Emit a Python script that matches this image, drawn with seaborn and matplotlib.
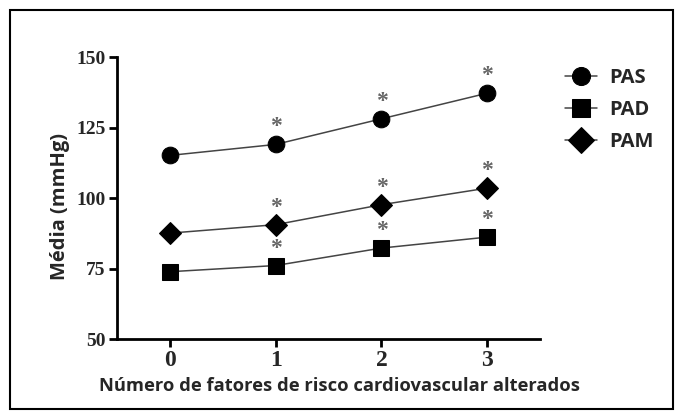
import matplotlib
matplotlib.use("Agg")
import matplotlib.pyplot as plt
import seaborn as sns
import pandas as pd
from matplotlib.patches import Rectangle

sns.set_style("white")

# valores
fatores = [0, 1, 2, 3]
pas = [115.2, 119.1, 128.2, 137.3]
pad = [73.9, 76.1, 82.3, 86.2]
pam = [87.6, 90.6, 97.7, 103.6]
series = ["PAS", "PAD", "PAM"]
marcadores = {"PAS": "o", "PAD": "s", "PAM": "D"}
tamanhos = {"PAS": 12, "PAD": 12, "PAM": 11}
signif = [1, 2, 3]  # pontos com asterisco

df = pd.DataFrame({"fatores": fatores * 3,
                   "media": pas + pad + pam,
                   "serie": [s for s in series for _ in fatores]})

fig = plt.figure(figsize=(6.83, 4.16), dpi=100)
ax = fig.add_axes([0.171, 0.185, 0.62, 0.677])

for s in series:
    d = df[df["serie"] == s]
    sns.lineplot(data=d, x="fatores", y="media", ax=ax, color="#444444",
                 linewidth=1.1, marker=marcadores[s], markersize=tamanhos[s],
                 markerfacecolor="black", markeredgecolor="black", label=s)
    for _, r in d.iterrows():
        if r["fatores"] in signif:
            ax.annotate("*", xy=(r["fatores"], r["media"]), xytext=(0, 5),
                        textcoords="offset points", ha="center", va="bottom",
                        fontsize=17, color="#666666", family="Liberation Serif",
                        weight="bold")

ax.set_xlim(-0.5, 3.5)
ax.set_ylim(50, 150)
ax.set_xticks(fatores)
ax.set_yticks([50, 75, 100, 125, 150])
for sp in ["top", "right"]:
    ax.spines[sp].set_visible(False)
for sp in ["left", "bottom"]:
    ax.spines[sp].set_linewidth(2)
    ax.spines[sp].set_color("black")
ax.tick_params(axis="both", direction="out", length=6, width=2, color="black",
               left=True, bottom=True, pad=2)
for lab in ax.get_xticklabels():
    lab.set_family("Liberation Serif")
    lab.set_weight("bold")
    lab.set_fontsize(17)
for lab in ax.get_yticklabels():
    lab.set_family("Liberation Serif")
    lab.set_weight("bold")
    lab.set_fontsize(14)

ax.set_xlabel("Número de fatores de risco cardiovascular alterados",
              family="Open Sans", weight="bold", fontsize=13.2)
ax.xaxis.set_label_coords(0.527, -0.135)
ax.set_ylabel("Média (mmHg)", family="Open Sans", weight="bold", fontsize=14.5)
ax.yaxis.set_label_coords(-0.11, 0.469)

leg = ax.legend(loc="upper left", bbox_to_anchor=(0.80, 0.88),
                bbox_transform=fig.transFigure, frameon=False,
                handlelength=1.6, handletextpad=0.6, labelspacing=0.6,
                prop={"family": "Open Sans", "weight": "bold", "size": 14.5})
for h in leg.legend_handles:
    h.set_markersize(13)

fig.patches.append(Rectangle((0.014, 0.017), 0.972, 0.959, transform=fig.transFigure,
                             fill=False, edgecolor="black", linewidth=1.5))

fig.savefig("out.png", dpi=100)
